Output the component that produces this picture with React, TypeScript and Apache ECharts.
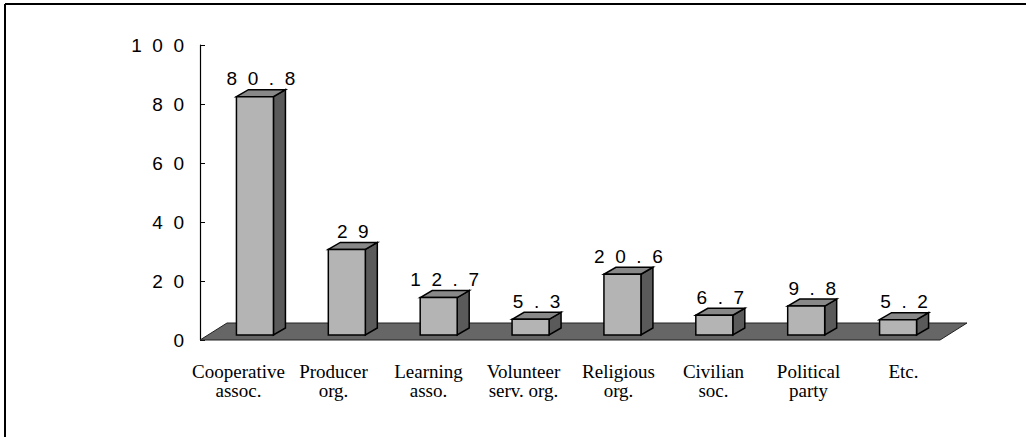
import React, { useEffect, useRef } from "react";
import * as echarts from "echarts";

const categories = [
  "Cooperative\nassoc.",
  "Producer\norg.",
  "Learning\nasso.",
  "Volunteer\nserv. org.",
  "Religious\norg.",
  "Civilian\nsoc.",
  "Political\nparty",
  "Etc.",
];
const values = [80.8, 29, 12.7, 5.3, 20.6, 6.7, 9.8, 5.2];
const yMin = 0;
const yMax = 100;
const yStep = 20;

const spaced = (v: number | string) => String(v).split("").join("  ");

export default function App() {
  const ref = useRef<HTMLDivElement>(null);
  useEffect(() => {
    if (!ref.current) return;
    const chart = echarts.init(ref.current, undefined, { renderer: "svg" });
    const W = 37;
    const DX = 12;
    const DY = -7;
    const LIFT = 5;
    const option: any = {
      animation: false,
      backgroundColor: "#ffffff",
      grid: [
        { left: 209, right: 82, top: 45, bottom: 97 },
        { left: 191, right: 75, top: 45, bottom: 97 },
      ],
      xAxis: [
        {
          type: "category",
          data: categories,
          gridIndex: 0,
          axisLine: { show: false },
          axisTick: { show: false },
          axisLabel: { show: false },
        },
        {
          type: "category",
          data: categories,
          gridIndex: 1,
          axisLine: { show: false },
          axisTick: { show: false },
          axisLabel: {
            fontFamily: "Liberation Serif",
            fontSize: 19,
            lineHeight: 19,
            color: "#000",
            margin: 22,
            interval: 0,
          },
        },
      ],
      yAxis: [
        {
          type: "value",
          gridIndex: 0,
          min: yMin,
          max: yMax,
          interval: yStep,
          offset: 9,
          axisLine: { show: true, lineStyle: { color: "#000", width: 1.2 } },
          axisTick: { show: true, inside: true, length: 5, lineStyle: { color: "#000" } },
          splitLine: { show: false },
          axisLabel: {
            formatter: (v: number) => spaced(v),
            fontFamily: "Liberation Sans",
            fontSize: 19,
            color: "#000",
            margin: 16,
          },
        },
        { type: "value", gridIndex: 1, min: yMin, max: yMax, show: false },
      ],
      graphic: [
        { type: "line", shape: { x1: 5, y1: 4, x2: 1026, y2: 4 }, style: { stroke: "#000", lineWidth: 2 } },
        { type: "line", shape: { x1: 5, y1: 4, x2: 5, y2: 437 }, style: { stroke: "#000", lineWidth: 2 } },
      ],
      series: [
        {
          type: "custom",
          xAxisIndex: 0,
          yAxisIndex: 0,
          z: 1,
          data: [[0, 0]],
          silent: true,
          renderItem: (params: any, api: any) => {
            const cs = params.coordSys;
            const y0 = api.coord([0, 0])[1];
            const xl = cs.x - 9;
            const xr = cs.x + cs.width - 4;
            return {
              type: "polygon",
              shape: {
                points: [
                  [xl, y0],
                  [xr, y0],
                  [xr + 27, y0 - 17],
                  [xl + 27, y0 - 17],
                ],
              },
              style: { fill: "#666666", stroke: "#222", lineWidth: 1 },
            };
          },
        },
        {
          type: "custom",
          xAxisIndex: 0,
          yAxisIndex: 0,
          z: 2,
          data: values.map((v, i) => [i, v]),
          encode: { x: 0, y: 1 },
          renderItem: (params: any, api: any) => {
            const i = api.value(0);
            const v = api.value(1);
            const top = api.coord([i, v]);
            const base = api.coord([i, 0]);
            const cx = top[0];
            const yT = top[1] - LIFT;
            const yB = base[1] - LIFT;
            const xL = cx - W / 2;
            const xR = cx + W / 2;
            return {
              type: "group",
              children: [
                {
                  type: "polygon",
                  shape: {
                    points: [
                      [xR, yT],
                      [xR + DX, yT + DY],
                      [xR + DX, yB + DY],
                      [xR, yB],
                    ],
                  },
                  style: { fill: "#5a5a5a", stroke: "#000", lineWidth: 1.5 },
                },
                {
                  type: "polygon",
                  shape: {
                    points: [
                      [xL, yT],
                      [xL + DX, yT + DY],
                      [xR + DX, yT + DY],
                      [xR, yT],
                    ],
                  },
                  style: { fill: "#888888", stroke: "#000", lineWidth: 1.5 },
                },
                {
                  type: "rect",
                  shape: { x: xL, y: yT, width: W, height: yB - yT },
                  style: { fill: "#b4b4b4", stroke: "#000", lineWidth: 1.5 },
                },
                {
                  type: "text",
                  style: {
                    text: spaced(v),
                    x: cx + 6,
                    y: yT - 18,
                    align: "center",
                    verticalAlign: "middle",
                    fontFamily: "Liberation Sans",
                    fontSize: 19,
                    fill: "#000",
                  },
                },
              ],
            };
          },
        },
      ],
    };
    chart.setOption(option);
    return () => chart.dispose();
  }, []);
  return (
    <div
      ref={ref}
      style={{ position: "fixed", left: 0, top: 0, width: 1026, height: 437 }}
    />
  );
}
